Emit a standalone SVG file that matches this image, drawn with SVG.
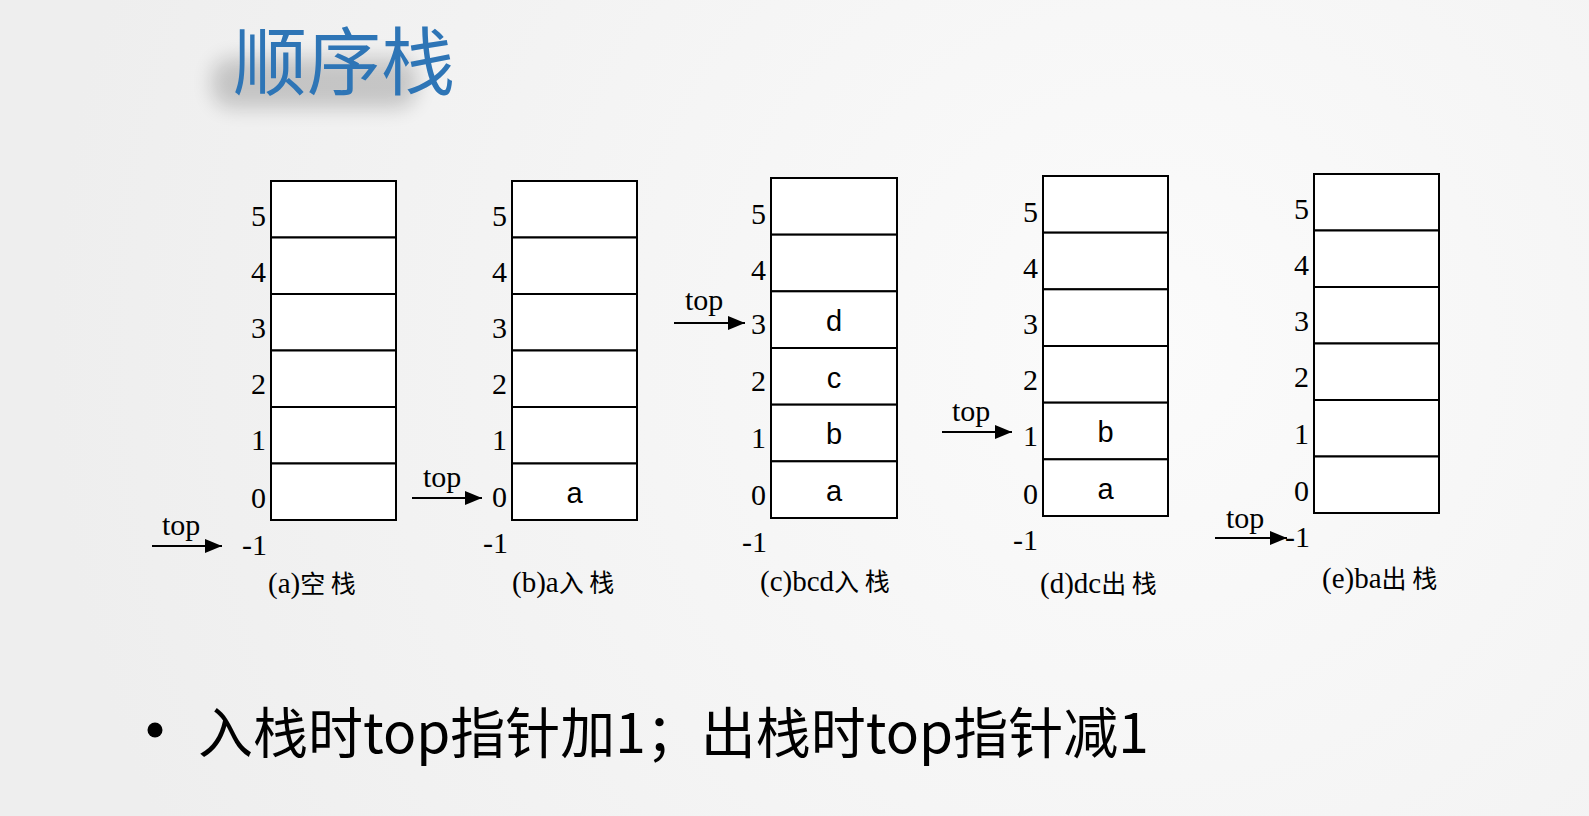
<svg xmlns="http://www.w3.org/2000/svg" width="1589" height="816" viewBox="0 0 1589 816">
<defs>
<radialGradient id="bg" cx="1150" cy="350" r="1100" gradientUnits="userSpaceOnUse">
<stop offset="0" stop-color="#fbfbfb"/>
<stop offset="1" stop-color="#eeeeee"/>
</radialGradient>
<filter id="shadow" x="-30%" y="-80%" width="160%" height="260%">
<feGaussianBlur stdDeviation="10"/>
</filter>
<marker id="ah" viewBox="0 0 17 14" refX="17" refY="7" markerWidth="17" markerHeight="14" markerUnits="userSpaceOnUse" orient="auto">
<path d="M0,0 L17,7 L0,14 Z" fill="#000"/>
</marker>
<style>
.cell{fill:#fff;stroke:#000;stroke-width:2}
.num{font-family:"Liberation Serif","Times New Roman",serif;font-size:30px;fill:#000;text-anchor:end}
.lbl{font-family:"Liberation Serif","Times New Roman",serif;font-size:30px;fill:#000}
.val{font-family:"Liberation Sans",Arial,sans-serif;font-size:29px;fill:#000;text-anchor:middle}
.cap{font-family:"Liberation Serif","Times New Roman",serif;font-size:29px;fill:#000}
.cjk{font-family:"Noto Sans CJK SC",sans-serif;font-size:25px}
.arr{stroke:#000;stroke-width:2;fill:none;marker-end:url(#ah)}
</style>
</defs>
<rect width="1589" height="816" fill="url(#bg)"/>

<g id="title">
<rect x="212" y="58" width="205" height="50" rx="20" fill="#000" opacity="0.18" filter="url(#shadow)"/>
<text x="233" y="89" font-family="Noto Sans CJK SC, sans-serif" font-size="74" fill="#2E75B6">顺序栈</text>
</g>

<g id="stack-a">
<rect class="cell" x="271" y="181" width="125" height="56.5"/>
<rect class="cell" x="271" y="237.5" width="125" height="56.5"/>
<rect class="cell" x="271" y="294" width="125" height="56.5"/>
<rect class="cell" x="271" y="350.5" width="125" height="56.5"/>
<rect class="cell" x="271" y="407" width="125" height="56.5"/>
<rect class="cell" x="271" y="463.5" width="125" height="56.5"/>
<text class="num" x="266" y="226">5</text>
<text class="num" x="266" y="282">4</text>
<text class="num" x="266" y="338">3</text>
<text class="num" x="266" y="394">2</text>
<text class="num" x="266" y="450">1</text>
<text class="num" x="266" y="508">0</text>
<text class="num" x="267" y="555">-1</text>
<text class="cap" x="268" y="593">(a)<tspan class="cjk">空 栈</tspan></text>
</g>

<g id="stack-b">
<rect class="cell" x="512" y="181" width="125" height="56.5"/>
<rect class="cell" x="512" y="237.5" width="125" height="56.5"/>
<rect class="cell" x="512" y="294" width="125" height="56.5"/>
<rect class="cell" x="512" y="350.5" width="125" height="56.5"/>
<rect class="cell" x="512" y="407" width="125" height="56.5"/>
<rect class="cell" x="512" y="463.5" width="125" height="56.5"/>
<text class="num" x="507" y="226">5</text>
<text class="num" x="507" y="282">4</text>
<text class="num" x="507" y="338">3</text>
<text class="num" x="507" y="394">2</text>
<text class="num" x="507" y="450">1</text>
<text class="num" x="507" y="507">0</text>
<text class="num" x="508" y="553">-1</text>
<text class="val" x="574.5" y="503">a</text>
<text class="cap" x="512" y="592">(b)a<tspan class="cjk">入 栈</tspan></text>
</g>

<g id="stack-c">
<rect class="cell" x="771" y="178" width="126" height="56.67"/>
<rect class="cell" x="771" y="234.67" width="126" height="56.67"/>
<rect class="cell" x="771" y="291.33" width="126" height="56.67"/>
<rect class="cell" x="771" y="348" width="126" height="56.67"/>
<rect class="cell" x="771" y="404.67" width="126" height="56.67"/>
<rect class="cell" x="771" y="461.33" width="126" height="56.67"/>
<text class="num" x="766" y="224">5</text>
<text class="num" x="766" y="280">4</text>
<text class="num" x="766" y="334">3</text>
<text class="num" x="766" y="391">2</text>
<text class="num" x="766" y="448">1</text>
<text class="num" x="766" y="505">0</text>
<text class="num" x="767" y="552">-1</text>
<text class="val" x="834" y="331">d</text>
<text class="val" x="834" y="388">c</text>
<text class="val" x="834" y="444">b</text>
<text class="val" x="834" y="501">a</text>
<text class="cap" x="760" y="591">(c)bcd<tspan class="cjk">入 栈</tspan></text>
</g>

<g id="stack-d">
<rect class="cell" x="1043" y="176" width="125" height="56.67"/>
<rect class="cell" x="1043" y="232.67" width="125" height="56.67"/>
<rect class="cell" x="1043" y="289.33" width="125" height="56.67"/>
<rect class="cell" x="1043" y="346" width="125" height="56.67"/>
<rect class="cell" x="1043" y="402.67" width="125" height="56.67"/>
<rect class="cell" x="1043" y="459.33" width="125" height="56.67"/>
<text class="num" x="1038" y="222">5</text>
<text class="num" x="1038" y="278">4</text>
<text class="num" x="1038" y="334">3</text>
<text class="num" x="1038" y="390">2</text>
<text class="num" x="1038" y="446">1</text>
<text class="num" x="1038" y="504">0</text>
<text class="num" x="1038" y="550">-1</text>
<text class="val" x="1105.5" y="442">b</text>
<text class="val" x="1105.5" y="499">a</text>
<text class="cap" x="1040" y="593">(d)dc<tspan class="cjk">出 栈</tspan></text>
</g>

<g id="stack-e">
<rect class="cell" x="1314" y="174" width="125" height="56.5"/>
<rect class="cell" x="1314" y="230.5" width="125" height="56.5"/>
<rect class="cell" x="1314" y="287" width="125" height="56.5"/>
<rect class="cell" x="1314" y="343.5" width="125" height="56.5"/>
<rect class="cell" x="1314" y="400" width="125" height="56.5"/>
<rect class="cell" x="1314" y="456.5" width="125" height="56.5"/>
<text class="num" x="1309" y="219">5</text>
<text class="num" x="1309" y="275">4</text>
<text class="num" x="1309" y="331">3</text>
<text class="num" x="1309" y="387">2</text>
<text class="num" x="1309" y="444">1</text>
<text class="num" x="1309" y="501">0</text>
<text class="num" x="1310" y="547">-1</text>
<text class="cap" x="1322" y="588">(e)ba<tspan class="cjk">出 栈</tspan></text>
</g>

<g id="connectors">
<line class="arr" x1="152" y1="546" x2="222" y2="546"/>
<text class="lbl" x="162" y="535">top</text>
<line class="arr" x1="412" y1="498" x2="482" y2="498"/>
<text class="lbl" x="423" y="487">top</text>
<line class="arr" x1="674" y1="323" x2="745" y2="323"/>
<text class="lbl" x="685" y="310">top</text>
<line class="arr" x1="942" y1="432" x2="1012" y2="432"/>
<text class="lbl" x="952" y="421">top</text>
<line class="arr" x1="1215" y1="538" x2="1287" y2="538"/>
<text class="lbl" x="1226" y="528">top</text>
</g>

<g id="note">
<circle cx="155" cy="730" r="7.5" fill="#000"/>
<text x="198" y="753" font-family="Noto Sans CJK SC, sans-serif" font-size="55" fill="#000">入栈时top指针加1；出栈时top指针减1</text>
</g>
</svg>
